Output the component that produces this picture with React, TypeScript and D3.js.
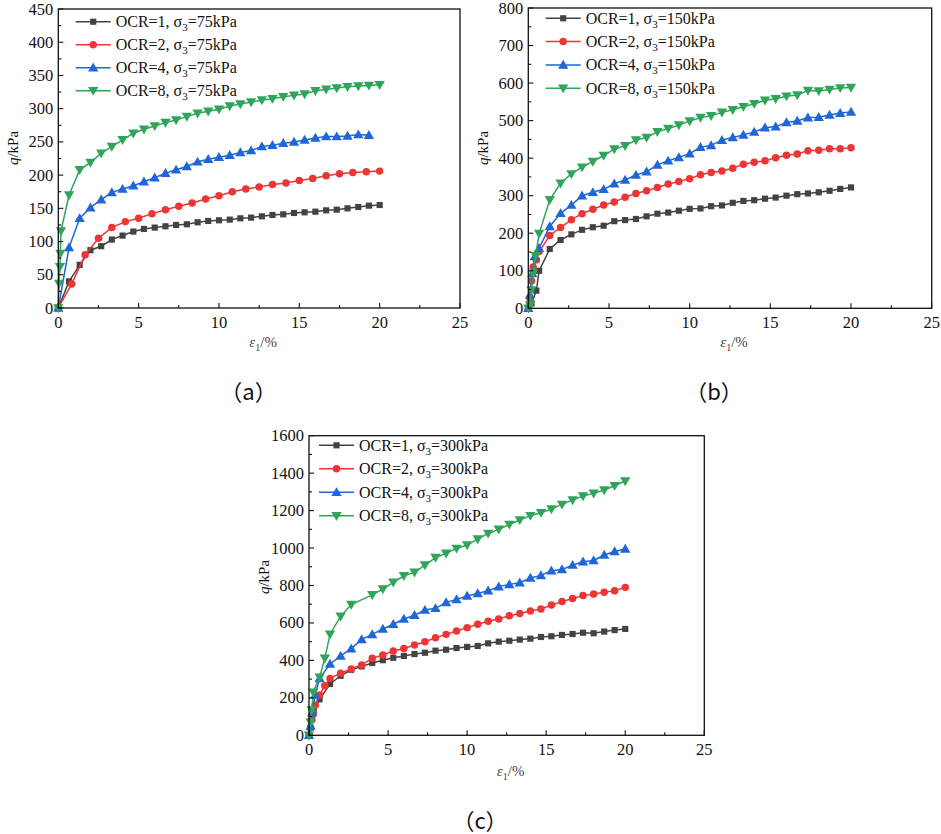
import * as d3 from "d3";

// strain grid (%), shared by most curves
const strainGrid = [0.67, 1.33, 2, 2.67, 3.33, 4, 4.67, 5.33, 6, 6.67, 7.33, 8, 8.67, 9.33, 10, 10.67, 11.33, 12, 12.67, 13.33, 14, 14.67, 15.33, 16, 16.67, 17.33, 18, 18.67, 19.33, 20];
const strainGridB = [0.83, 1.67, 2.5, 3.33, 4.17, 5, 5.83, 6.67, 7.5, 8.33, 9.17, 10, 10.83, 11.67, 12.5, 13.33, 14.17, 15, 15.83, 16.67, 17.5, 18.33, 19.17, 20];

const xTicks = [0, 5, 10, 15, 20, 25];
const yTicksA = [0, 50, 100, 150, 200, 250, 300, 350, 400, 450];
const yTicksB = [0, 100, 200, 300, 400, 500, 600, 700, 800];
const yTicksC = [0, 200, 400, 600, 800, 1000, 1200, 1400, 1600];

const ocrLabels = ["1", "2", "4", "8"];

// (a) sigma3 = 75 kPa
const strainA1 = [0, ...strainGrid];
const qA1 = [0, 40, 65, 87, 93, 103, 109, 115, 119, 121, 123, 125, 126, 129, 131, 132, 133, 135, 136, 138, 140, 141, 143, 144, 145, 147, 148, 150, 152, 154, 155];
const strainA2 = [0, ...strainGridB];
const qA2 = [0, 36, 80, 105, 121, 130, 135, 142, 148, 153, 158, 164, 169, 175, 179, 182, 186, 188, 192, 195, 199, 202, 204, 205, 206];
const strainA4 = [0, ...strainGrid.slice(0, 29)];
const qA4 = [0, 91, 135, 151, 163, 174, 179, 184, 190, 196, 203, 208, 213, 220, 224, 227, 230, 234, 237, 243, 245, 248, 250, 253, 256, 258, 258, 259, 261, 260];
const strainA8 = [0, 0.05, 0.1, 0.13, 0.17, ...strainGrid];
const qA8 = [0, 37, 62, 82, 116, 170, 208, 219, 233, 243, 253, 263, 269, 274, 279, 283, 288, 293, 296, 299, 304, 307, 310, 313, 315, 318, 320, 322, 327, 329, 331, 333, 334, 335, 336];

// (b) sigma3 = 150 kPa
const strainB1 = [0, 0.2, 0.5, ...strainGrid];
const qB1 = [0, 13, 47, 100, 158, 182, 197, 209, 216, 220, 232, 235, 238, 245, 252, 255, 260, 265, 266, 272, 274, 281, 286, 288, 292, 295, 300, 304, 306, 309, 313, 318, 322];
const strainB2 = [0, 0.1, 0.2, 0.3, 0.5, ...strainGrid];
const qB2 = [0, 27, 73, 110, 129, 151, 194, 215, 236, 252, 264, 275, 283, 296, 306, 313, 322, 331, 338, 345, 356, 362, 366, 373, 384, 389, 393, 401, 408, 411, 420, 421, 425, 425, 428];
const strainB4 = [0, 0.1, 0.25, 0.4, ...strainGrid];
const qB4 = [0, 36, 93, 138, 160, 218, 253, 275, 300, 309, 317, 332, 342, 355, 364, 382, 393, 402, 412, 429, 434, 448, 455, 462, 470, 481, 484, 495, 499, 508, 509, 515, 520, 523];
const strainB8 = [0, 0.1, 0.2, 0.3, 0.45, ...strainGrid];
const qB8 = [0, 9, 49, 93, 140, 199, 289, 333, 358, 376, 391, 407, 424, 433, 448, 455, 470, 479, 488, 499, 508, 513, 522, 529, 537, 545, 554, 558, 565, 568, 580, 579, 583, 587, 588];

// (c) sigma3 = 300 kPa
const strainC1 = [0, 0.1, 0.2, 0.3, ...strainGrid];
const qC1 = [0, 40, 90, 130, 192, 274, 318, 350, 368, 386, 401, 414, 424, 434, 441, 452, 457, 466, 472, 477, 491, 500, 505, 511, 516, 525, 529, 536, 541, 548, 545, 554, 562, 568];
const strainC2 = [0, 0.1, 0.17, 0.27, 0.4, 0.67, 1.0, ...strainGrid.slice(1)];
const qC2 = [0, 40, 82, 117, 160, 215, 265, 304, 332, 354, 376, 411, 429, 450, 464, 482, 500, 521, 539, 557, 575, 593, 609, 621, 639, 651, 664, 675, 696, 714, 731, 746, 755, 764, 772, 790];
const strainC4 = [0, 0.1, 0.2, 0.38, ...strainGrid];
const qC4 = [0, 50, 120, 215, 304, 381, 424, 463, 512, 539, 568, 593, 621, 641, 669, 678, 710, 726, 744, 758, 772, 794, 806, 815, 840, 854, 879, 886, 909, 927, 934, 963, 982, 995];
const strainC8 = [0, 0.1, 0.17, 0.27, 0.67, 1.0, 1.33, 2, 2.67, ...strainGrid.slice(5)];
const qC8 = [0, 70, 135, 230, 310, 411, 540, 635, 698, 750, 781, 817, 852, 870, 909, 949, 972, 998, 1016, 1048, 1078, 1100, 1126, 1150, 1173, 1189, 1208, 1233, 1256, 1278, 1292, 1310, 1333, 1358];

const colors = ["#434343", "#ee3535", "#1f66d8", "#2fa55a"];
const symbols = [d3.symbolSquare, d3.symbolCircle, d3.symbolTriangle, d3.symbolTriangle];
const symbolSizes = [38, 44, 46, 46];

const serif = { fontFamily: "Liberation Serif, Times New Roman, serif" };
const cjk = { fontFamily: "Noto Sans CJK SC, Noto Sans CJK JP, sans-serif" };

type Box = { l: number; r: number; t: number; b: number };
type Curve = { x: number[]; q: number[] };

const marker = (i: number, cx: number, cy: number, key: string | number) => {
  const path = d3.symbol().type(symbols[i]).size(symbolSizes[i])() || "";
  const rot = i === 3 ? " rotate(180)" : "";
  const dy = i === 2 ? 0.8 : i === 3 ? -0.8 : 0;
  return (
    <path
      key={key}
      d={path}
      transform={`translate(${cx},${cy + dy})${rot}`}
      fill={colors[i]}
    />
  );
};

const Panel = ({
  box,
  yMax,
  yTicks,
  curves,
  sigma,
  legend,
  labelY,
  xLabelY,
  caption,
  captionX,
  captionY,
}: {
  box: Box;
  yMax: number;
  yTicks: number[];
  curves: Curve[];
  sigma: string;
  legend: { x: number; y: number; dy: number };
  labelY: number;
  xLabelY: number;
  caption: string;
  captionX: number;
  captionY: number;
}) => {
  const x = d3.scaleLinear().domain([0, 25]).range([box.l, box.r]);
  const y = d3.scaleLinear().domain([0, yMax]).range([box.b, box.t]);
  const yStep = yTicks[1] - yTicks[0];
  const xMinor = xTicks.slice(0, -1).map((v) => v + 2.5);
  const yMinor = yTicks.slice(0, -1).map((v) => v + yStep / 2);
  const cx = (box.l + box.r) / 2;

  return (
    <g>
      {/* curves */}
      {curves.map((c, i) => {
        const pts: [number, number][] = c.x.map((v, k) => [x(v), y(c.q[k])]);
        const d = d3.line()(pts) || "";
        return (
          <g key={i}>
            <path d={d} fill="none" stroke={colors[i]} strokeWidth={1.5} />
            {pts.map((p, k) => marker(i, p[0], p[1], k))}
          </g>
        );
      })}

      {/* frame */}
      <rect
        x={box.l}
        y={box.t}
        width={box.r - box.l}
        height={box.b - box.t}
        fill="none"
        stroke="#111"
        strokeWidth={1.3}
      />

      {/* x ticks */}
      {xTicks.map((v) => (
        <g key={"xt" + v}>
          <line x1={x(v)} x2={x(v)} y1={box.b} y2={box.b - 5} stroke="#111" strokeWidth={1.1} />
          <text x={x(v)} y={box.b + 20} textAnchor="middle" style={serif} fontSize={16.5} fill="#111">
            {v}
          </text>
        </g>
      ))}
      {xMinor.map((v) => (
        <line key={"xm" + v} x1={x(v)} x2={x(v)} y1={box.b} y2={box.b - 3} stroke="#111" strokeWidth={1.1} />
      ))}

      {/* y ticks */}
      {yTicks.map((v) => (
        <g key={"yt" + v}>
          <line x1={box.l} x2={box.l + 5} y1={y(v)} y2={y(v)} stroke="#111" strokeWidth={1.1} />
          <text x={box.l - 5} y={y(v) + 5.5} textAnchor="end" style={serif} fontSize={16.5} fill="#111">
            {v}
          </text>
        </g>
      ))}
      {yMinor.map((v) => (
        <line key={"ym" + v} x1={box.l} x2={box.l + 3} y1={y(v)} y2={y(v)} stroke="#111" strokeWidth={1.1} />
      ))}

      {/* axis titles */}
      <text
        transform={`translate(${box.l - 40},${labelY}) rotate(-90)`}
        textAnchor="middle"
        style={serif}
        fontSize={15}
        fill="#111"
      >
        <tspan fontStyle="italic">q</tspan>/kPa
      </text>
      <text x={cx + 4} y={xLabelY} textAnchor="middle" style={serif} fontSize={15} fill="#444">
        <tspan fontStyle="italic">ε</tspan>
        <tspan fontSize={10} dy={4}>1</tspan>
        <tspan dy={-4}>/%</tspan>
      </text>

      {/* legend */}
      {ocrLabels.map((o, i) => {
        const ly = legend.y + i * legend.dy;
        return (
          <g key={"lg" + o}>
            <line x1={legend.x} x2={legend.x + 35} y1={ly} y2={ly} stroke={colors[i]} strokeWidth={1.5} />
            {marker(i, legend.x + 17.5, ly, "m")}
            <text x={legend.x + 40} y={ly + 5.5} style={serif} fontSize={16} fill="#111">
              OCR={o}, σ
              <tspan fontSize={11} dy={4}>3</tspan>
              <tspan dy={-4}>={sigma}kPa</tspan>
            </text>
          </g>
        );
      })}

      {/* caption */}
      <text x={captionX} y={captionY} textAnchor="middle" style={cjk} fontSize={22} fill="#111">
        {caption}
      </text>
    </g>
  );
};

export default function App() {
  const boxA: Box = { l: 58.3, r: 460, t: 9, b: 308 };
  const boxB: Box = { l: 528.3, r: 931.7, t: 8, b: 308.3 };
  const boxC: Box = { l: 309, r: 704.3, t: 435.7, b: 735.3 };
  return (
    <svg
      width={941}
      height={834}
      style={{ position: "absolute", left: 0, top: 0, background: "#fff" }}
    >
      <rect width={941} height={834} fill="#fff" />
      <Panel
        box={boxA}
        yMax={450}
        yTicks={yTicksA}
        curves={[
          { x: strainA1, q: qA1 },
          { x: strainA2, q: qA2 },
          { x: strainA4, q: qA4 },
          { x: strainA8, q: qA8 },
        ]}
        sigma="75"
        legend={{ x: 75.7, y: 21.7, dy: 23 }}
        labelY={148}
        xLabelY={347}
        caption="（a）"
        captionX={248.5}
        captionY={400}
      />
      <Panel
        box={boxB}
        yMax={800}
        yTicks={yTicksB}
        curves={[
          { x: strainB1, q: qB1 },
          { x: strainB2, q: qB2 },
          { x: strainB4, q: qB4 },
          { x: strainB8, q: qB8 },
        ]}
        sigma="150"
        legend={{ x: 545.7, y: 18.3, dy: 23.3 }}
        labelY={148}
        xLabelY={347}
        caption="（b）"
        captionX={714}
        captionY={400}
      />
      <Panel
        box={boxC}
        yMax={1600}
        yTicks={yTicksC}
        curves={[
          { x: strainC1, q: qC1 },
          { x: strainC2, q: qC2 },
          { x: strainC4, q: qC4 },
          { x: strainC8, q: qC8 },
        ]}
        sigma="300"
        legend={{ x: 319, y: 445.3, dy: 23.5 }}
        labelY={577}
        xLabelY={776}
        caption="（c）"
        captionX={480}
        captionY={829}
      />
    </svg>
  );
}
